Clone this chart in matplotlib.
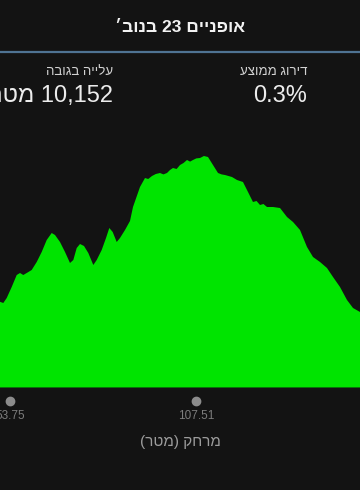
import re
import matplotlib
matplotlib.use("Agg")
import matplotlib.pyplot as plt
import matplotlib.transforms as mtransforms

plt.rcParams['font.family'] = ['Liberation Sans', 'DejaVu Sans']

# elevation profile (distance, elevation)
distance = [50.86, 51.81, 52.80, 54.24, 55.69, 56.64, 57.59, 58.58, 60.02, 61.47,
            62.91, 64.36, 65.80, 66.76, 68.20, 69.65, 71.09, 72.05, 73.03, 73.98,
            75.14, 76.38, 77.83, 78.81, 80.25, 81.50, 82.45, 83.43, 84.59, 85.54,
            86.99, 88.43, 89.30, 91.32, 92.77, 93.70, 94.79, 95.90, 97.10, 98.10,
            99.12, 100.00, 100.86, 101.90, 102.89, 103.90, 104.91, 105.80, 106.64,
            107.60, 108.67, 109.80, 110.98, 112.42, 113.87, 114.90, 115.89, 116.90,
            117.91, 119.36, 121.09, 122.25, 123.98, 125.00, 126.01, 127.00, 128.03,
            129.77, 131.79, 133.81, 135.55, 137.57, 139.59, 141.33, 143.35, 145.37,
            147.11, 149.13, 151.15, 152.89, 154.91]
elevation = [431, 425, 450, 505, 565, 575, 565, 575, 590, 630,
             680, 740, 775, 765, 730, 680, 625, 640, 700, 720,
             710, 675, 615, 640, 690, 750, 800, 780, 730, 750,
             790, 835, 905, 1005, 1050, 1045, 1060, 1070, 1075, 1068,
             1075, 1090, 1100, 1095, 1115, 1125, 1140, 1132, 1140,
             1148, 1150, 1160, 1155, 1115, 1075, 1068, 1065, 1060,
             1055, 1040, 1030, 990, 930, 935, 915, 920, 905,
             905, 900, 855, 830, 790, 705, 655, 630, 600,
             555, 505, 440, 400, 380]

tick_pos = [53.75, 107.51]
tick_labels = ["53.75", "107.51"]

title = "אופניים 23 בנוב׳"
stat_labels = ["עלייה בגובה", "דירוג ממוצע"]
stat_values = ["10,152 מטר", "0.3%"]
x_label = "מרחק (מטר)"


def vis(s):
    # matplotlib has no bidi: flip hebrew to visual order, keep numbers as is
    r = s[::-1]
    r = re.sub(r'[0-9.,%]+', lambda m: m.group(0)[::-1], r)
    return r.translate(str.maketrans('()', ')('))


bg = '#131313'
fig = plt.figure(figsize=(3.6, 4.9), dpi=100, facecolor=bg)

fig.text(0.5, 1 - 28 / 490, vis(title), ha='center', va='center',
         color='#f2f2f2', fontsize=12.5, fontweight='bold')
fig.add_artist(plt.Line2D([0, 1], [1 - 52.5 / 490] * 2, color='#4f7393', lw=1.6))

for xr, lab, val in [(113, stat_labels[0], stat_values[0]), (307, stat_labels[1], stat_values[1])]:
    fig.text(xr / 360, 1 - 72 / 490, vis(lab), ha='right', va='center',
             color='#d2d2d2', fontsize=9.5)
    fig.text(xr / 360, 1 - 96 / 490, vis(val), ha='right', va='center',
             color='#ececec', fontsize=17)

ax = fig.add_axes([0, 1 - 388 / 490, 1, 248 / 490])
ax.set_facecolor(bg)
ax.fill_between(distance, elevation, 0, color='#00e400', lw=0)
ax.axhline(0, color='#0b5a0b', lw=1.2)
ax.set_xlim(distance[0], distance[-1])
ax.set_ylim(0, 1240)
ax.axis('off')

trans = mtransforms.blended_transform_factory(ax.transData, ax.transAxes)
ax.plot(tick_pos, [-13 / 248] * len(tick_pos), 'o', color='#8c8c8c', ms=6,
        transform=trans, clip_on=False)
for p, t in zip(tick_pos, tick_labels):
    ax.text(p, -28 / 248, t, transform=trans, ha='center', va='center',
            color='#7c7c7c', fontsize=8.5, clip_on=False)

fig.text(0.5, 1 - 441.5 / 490, vis(x_label), ha='center', va='center',
         color='#9c9c9c', fontsize=11)

fig.savefig('out.png', dpi=100, facecolor=bg)
